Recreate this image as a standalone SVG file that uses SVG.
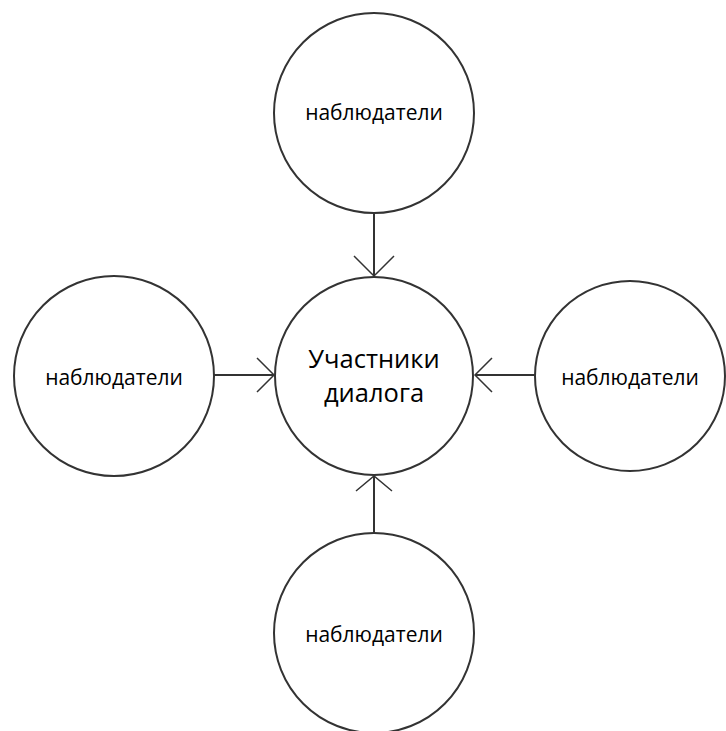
<svg xmlns="http://www.w3.org/2000/svg" width="726" height="731" viewBox="0 0 726 731">
<style>
.node circle{fill:#fff;stroke:#333;stroke-width:2}
.lbl{font-family:"Open Sans","Noto Sans",sans-serif;font-size:21px;fill:#000;text-anchor:middle}
.big{font-size:25.5px}
.conn line{stroke:#333;stroke-width:2}
.conn polyline{fill:none;stroke:#333;stroke-width:1.5}
</style>
<rect width="726" height="731" fill="#fff"/>
<g id="center" class="node"><circle cx="374" cy="376" r="99"/><text class="lbl big" x="374" y="368">Участники</text><text class="lbl big" x="374" y="402">диалога</text></g>
<g id="top" class="node"><circle cx="374" cy="113" r="100"/><text class="lbl" x="374" y="120">наблюдатели</text></g>
<g id="left" class="node"><circle cx="114" cy="376" r="100"/><text class="lbl" x="114" y="385">наблюдатели</text></g>
<g id="right" class="node"><circle cx="630" cy="376" r="95"/><text class="lbl" x="630" y="385">наблюдатели</text></g>
<g id="bottom" class="node"><circle cx="374" cy="633" r="100"/><text class="lbl" x="374" y="642">наблюдатели</text></g>
<g id="connectors" class="conn">
<line x1="374" y1="213" x2="374" y2="276"/><polyline points="354,256 374,276 394,256"/>
<line x1="214" y1="375" x2="274" y2="375"/><polyline points="257,358 274,375 257,392"/>
<line x1="535" y1="375" x2="475" y2="375"/><polyline points="492,358 475,375 492,392"/>
<line x1="374" y1="533" x2="374" y2="476"/><polyline points="356,491 374,476 392,491"/>
</g>
</svg>
